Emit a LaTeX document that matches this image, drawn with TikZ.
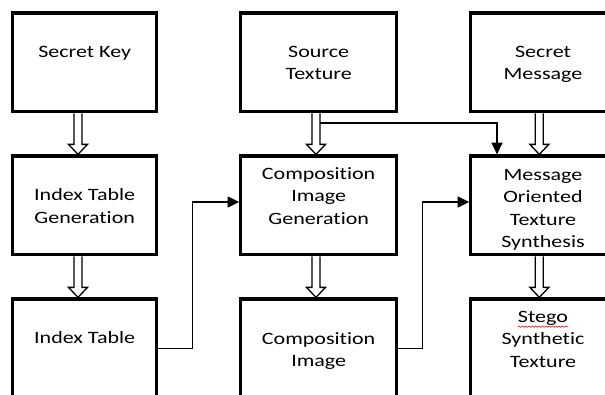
\documentclass[tikz,border=0pt]{standalone}
\usepackage{fontspec}
\setmainfont{Carlito}[FakeStretch=1.27,Ligatures=NoCommon]
\usetikzlibrary{arrows.meta,calc,decorations.pathmorphing}
\tikzset{
  block/.style={draw,line width=2.8pt,minimum height=2.96cm,inner sep=0pt},
  lbl/.style={align=center,font=\fontsize{14.8pt}{19.2pt}\selectfont,inner sep=0pt,
    execute at begin node=\strut,execute at end node=\strut},
  fat/.style={line width=1.1pt,line join=miter},
  link/.style={line width=1.4pt,-{Triangle[length=0.35cm,width=0.33cm]}},
}
% hollow block arrow from the bottom of #1 to the top of #2, shifted by #3 (cm)
\newcommand{\fatarrow}[3]{%
  \draw[fat] ($(#1.south)+(#3-0.12,0)$) -- ($(#2.north)+(#3-0.12,0.3)$)
    -- ($(#2.north)+(#3-0.285,0.3)$) -- ($(#2.north)+(#3,0)$)
    -- ($(#2.north)+(#3+0.285,0.3)$) -- ($(#2.north)+(#3+0.12,0.3)$)
    -- ($(#1.south)+(#3+0.12,0)$);}

\begin{document}
\begin{tikzpicture}
\useasboundingbox (0,0) rectangle (18.15,11.82);
\clip (0,0) rectangle (18.15,11.82);
\node[block,minimum width=4.33cm] (key) at (2.54,9.95) {};
\node[block,minimum width=4.67cm] (src) at (9.56,9.95) {};
\node[block,minimum width=4.33cm] (msg) at (16.29,9.95) {};
\node[block,minimum width=4.33cm] (idxgen) at (2.54,5.66) {};
\node[block,minimum width=4.67cm] (compgen) at (9.56,5.66) {};
\node[block,minimum width=4.33cm] (synth) at (16.29,5.66) {};
\node[block,minimum width=4.33cm] (idx) at (2.54,1.37) {};
\node[block,minimum width=4.67cm] (comp) at (9.56,1.37) {};
\node[block,minimum width=4.33cm] (stego) at (16.29,1.37) {};
\node[lbl] (keytxt) at (2.54,10.22) {Secret Key};
\node[lbl] (srctxt) at (9.56,9.84) {Source\\Texture};
\node[lbl] (msgtxt) at (16.29,9.84) {Secret\\Message};
\node[lbl] (idxgentxt) at (2.54,5.54) {Index Table\\Generation};
\node[lbl] (compgentxt) at (9.56,5.85) {Composition\\Image\\Generation};
\node[lbl] (synthtxt) at (16.29,5.47) {Message\\Oriented\\Texture\\Synthesis};
\node[lbl] (idxtxt) at (2.54,1.64) {Index Table};
\node[lbl] (comptxt) at (9.56,1.24) {Composition\\Image};
\node[lbl] (stegotxt) at (16.29,1.55) {Stego\\Synthetic\\Texture};
\draw[red,line width=0.5pt,decorate,decoration={snake,amplitude=0.02cm,segment length=0.1cm}]
  (15.54,2.02) -- (17.04,2.02);
\fatarrow{key}{idxgen}{-0.2}
\fatarrow{idxgen}{idx}{-0.2}
\fatarrow{src}{compgen}{-0.08}
\fatarrow{compgen}{comp}{-0.08}
\fatarrow{msg}{synth}{-0.11}
\fatarrow{synth}{stego}{-0.11}
\draw[link] ($(src.south)+(0.04,-0.29)$) -| ($(synth.north)+(-1.38,0)$);
\draw[link] (idx.east) -- ++(1.02,0) |- ([yshift=0.1cm]compgen.west);
\draw[link] (comp.east) -- ++(0.73,0) |- ([yshift=0.1cm]synth.west);
\end{tikzpicture}
\end{document}
